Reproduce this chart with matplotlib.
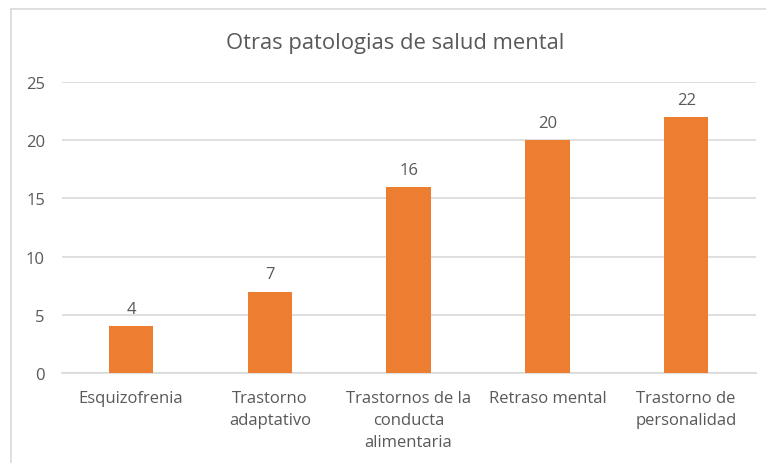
import matplotlib.pyplot as plt
from matplotlib.patches import Rectangle

# ------------------------------------------------------------
# Data
# ------------------------------------------------------------

categories = [
    "Esquizofrenia",
    "Trastorno\nadaptativo",
    "Trastornos de la\nconducta\nalimentaria",
    "Retraso mental",
    "Trastorno de\npersonalidad",
]

values = [4, 7, 16, 20, 22]

y_ticks = [0, 5, 10, 15, 20, 25]

title = "Otras patologias de salud mental"

# ------------------------------------------------------------
# Style
# ------------------------------------------------------------

BAR_COLOR = "#ED7D31"
TEXT_COLOR = "#595959"
GRID_COLOR = "#D9D9D9"

plt.rcParams["font.family"] = ["Open Sans", "DejaVu Sans"]

fig = plt.figure(figsize=(7.66, 4.64), dpi=100)

ax = fig.add_axes([0.0804, 0.194, 0.906, 0.627])

x = range(len(categories))

bars = ax.bar(x, values, width=0.32, color=BAR_COLOR, zorder=3)

ax.set_xlim(-0.5, len(categories) - 0.5)
ax.set_ylim(0, 25)

ax.set_yticks(y_ticks)
ax.set_yticklabels([str(t) for t in y_ticks])

ax.set_xticks(list(x))
ax.set_xticklabels(categories, linespacing=1.5)

ax.tick_params(axis="both", length=0, colors=TEXT_COLOR, labelsize=12)
ax.tick_params(axis="x", pad=12)
ax.tick_params(axis="y", pad=12)

ax.grid(axis="y", color=GRID_COLOR, lw=1.2, zorder=0)

for side in ["top", "right", "left"]:
    ax.spines[side].set_visible(False)

ax.spines["bottom"].set_color(GRID_COLOR)
ax.spines["bottom"].set_linewidth(1.2)

# data labels
for b, v in zip(bars, values):
    ax.annotate(
        str(v),
        (b.get_x() + b.get_width() / 2, v),
        xytext=(0, 6.5),
        textcoords="offset points",
        ha="center",
        va="bottom",
        color=TEXT_COLOR,
        fontsize=12,
    )

fig.text(
    395 / 766,
    1 - 43 / 464,
    title,
    ha="center",
    va="center",
    color=TEXT_COLOR,
    fontsize=15.8,
)

# chart border
fig.patches.append(
    Rectangle(
        (11 / 766, -0.05),
        1.1,
        0.05 + 454 / 464,
        transform=fig.transFigure,
        fill=False,
        edgecolor=GRID_COLOR,
        lw=1.2,
    )
)

fig.savefig("out.png", dpi=100)
